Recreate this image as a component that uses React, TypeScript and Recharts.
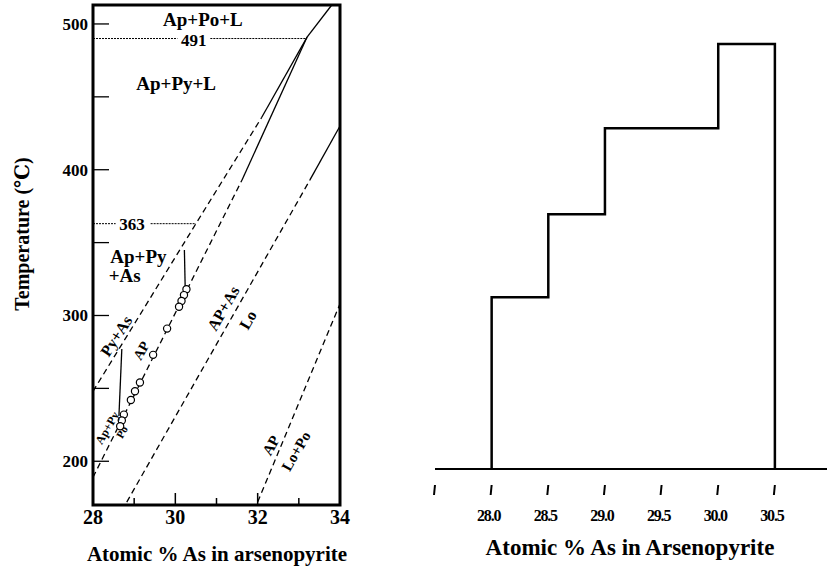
import React from "react";
import {
  ComposedChart,
  Line,
  Scatter,
  XAxis,
  YAxis,
  ReferenceLine,
  ReferenceArea,
  ReferenceDot,
  Customized,
} from "recharts";

const serif = "'Liberation Serif', 'Times New Roman', 'DejaVu Serif', serif";

// ---- left panel: arsenopyrite composition vs temperature ----
const leftXTicks = [28, 29, 30, 31, 32, 33, 34];
const leftXLabels = [28, 30, 32, 34];
const leftYTicks = [200, 250, 300, 350, 400, 450, 500];
const leftYLabels = [200, 300, 400, 500];

const meltSolid = [
  { x: 33.2, t: 491 },
  { x: 33.8, t: 513 },
];
const pyAsDashed = [
  { x: 28.0, t: 248 },
  { x: 30.5, t: 363 },
  { x: 32.1, t: 436 },
];
const pyAsSolid = [
  { x: 32.1, t: 436 },
  { x: 33.2, t: 491 },
];
const pyPoDashed = [
  { x: 28.0, t: 189 },
  { x: 31.62, t: 393 },
];
const pyPoSolid = [
  { x: 31.62, t: 393 },
  { x: 33.2, t: 491 },
];
const loAsDashed = [
  { x: 28.82, t: 172 },
  { x: 33.27, t: 393 },
];
const loAsSolid = [
  { x: 33.27, t: 393 },
  { x: 34.0, t: 430 },
];
const loPoDashed = [
  { x: 32.0, t: 172 },
  { x: 34.0, t: 308 },
];
const tieUpper = [
  { x: 30.24, t: 318 },
  { x: 30.22, t: 345 },
];
const tieLower = [
  { x: 28.63, t: 231 },
  { x: 28.7, t: 277 },
];
const samples = [
  { x: 30.27, t: 318 },
  { x: 30.21, t: 314 },
  { x: 30.15, t: 310 },
  { x: 30.09, t: 306 },
  { x: 29.8, t: 291 },
  { x: 29.46, t: 273 },
  { x: 29.14, t: 254 },
  { x: 29.02, t: 248 },
  { x: 28.92, t: 242 },
  { x: 28.75, t: 232 },
  { x: 28.7, t: 228 },
  { x: 28.66, t: 224 },
];

// text labels inside the diagram
const fieldLabels = [
  { x: 30.67, t: 503, text: "Ap+Po+L", size: 19, angle: 0 },
  { x: 30.02, t: 459, text: "Ap+Py+L", size: 19, angle: 0 },
  { x: 28.56, t: 286, text: "Py+As", size: 16, angle: -57 },
  { x: 29.17, t: 276, text: "AP", size: 14, angle: -60 },
  { x: 31.16, t: 305, text: "AP+As", size: 16, angle: -60 },
  { x: 31.76, t: 297, text: "Lo", size: 16, angle: -60 },
  { x: 28.34, t: 223, text: "Ap+Py", size: 12, angle: -60 },
  { x: 28.7, t: 220, text: "Po", size: 11, angle: -60 },
  { x: 32.32, t: 211, text: "AP", size: 15, angle: -60 },
  { x: 32.93, t: 207, text: "Lo+Po", size: 15, angle: -60 },
];

// ---- right panel: composition range histogram ----
const binEdges = [28.0, 28.5, 29.0, 30.0, 30.5];
const binTemps = [313, 370, 429, 487];
const rightTicks = [27.5, 28.0, 28.5, 29.0, 29.5, 30.0, 30.5];
const BASE = 195;

const outline: { x: number; t: number }[] = [{ x: binEdges[0], t: BASE }];
binTemps.forEach((t, i) => {
  outline.push({ x: binEdges[i], t }, { x: binEdges[i + 1], t });
});
outline.push({ x: binEdges[binEdges.length - 1], t: BASE });

const dash = "6 4";

const LeftXTick = ({ x, y, payload }: any) => {
  const v = payload.value;
  const edge = v === 28 || v === 34;
  const len = edge ? 0 : v % 2 === 0 ? 12 : 7;
  return (
    <g>
      {len > 0 && <line x1={x} x2={x} y1={y} y2={y - len} stroke="#000" strokeWidth={1.5} />}
      {leftXLabels.includes(v) && (
        <text x={x} y={y + 19} textAnchor="middle" fontFamily={serif} fontWeight="bold" fontSize={20} fill="#000">
          {v}
        </text>
      )}
    </g>
  );
};

const LeftYTick = ({ x, y, payload }: any) => {
  const v = payload.value;
  return (
    <g>
      <line x1={x} x2={x + 16} y1={y} y2={y} stroke="#000" strokeWidth={1.3} />
      {leftYLabels.includes(v) && (
        <text x={x - 5} y={y + 6} textAnchor="end" fontFamily={serif} fontWeight="bold" fontSize={17} fill="#000">
          {v}
        </text>
      )}
    </g>
  );
};

const RightXTick = ({ x, y, payload }: any) => {
  const v = payload.value;
  return (
    <g>
      <line x1={x} x2={x - 1} y1={y + 16} y2={y + 26} stroke="#000" strokeWidth={2} />
      {v >= 28 && (
        <text x={x - 3} y={y + 52} textAnchor="middle" fontFamily={serif} fontWeight="bold" fontSize={16} letterSpacing={-1.2} fill="#000">
          {v.toFixed(1)}
        </text>
      )}
    </g>
  );
};

const Ring = (props: any) => (
  <circle cx={props.cx} cy={props.cy} r={3.6} fill="#fff" stroke="#000" strokeWidth={1.2} />
);

function PhaseDiagram() {
  const line = (data: any[], dashed: boolean, key: string) => (
    <Line
      key={key}
      data={data}
      dataKey="t"
      type="linear"
      stroke="#000"
      strokeWidth={1.3}
      strokeDasharray={dashed ? dash : undefined}
      dot={false}
      activeDot={false}
      isAnimationActive={false}
    />
  );
  return (
    <ComposedChart width={360} height={571} margin={{ top: 5, right: 20, left: 33, bottom: 36 }}>
      <XAxis
        dataKey="x"
        type="number"
        domain={[28, 34]}
        ticks={leftXTicks}
        interval={0}
        tickSize={0}
        tickMargin={0}
        axisLine={false}
        tickLine={false}
        height={30}
        tick={<LeftXTick />}
      />
      <YAxis
        type="number"
        domain={[170, 513]}
        ticks={leftYTicks}
        interval={0}
        tickSize={0}
        tickMargin={0}
        axisLine={false}
        tickLine={false}
        width={60}
        tick={<LeftYTick />}
      />
      <ReferenceArea x1={28} x2={34} y1={170} y2={513} fill="none" stroke="#000" strokeWidth={3} />
      <ReferenceLine segment={[{ x: 28, y: 490 }, { x: 30.05, y: 490 }]} stroke="#000" strokeWidth={1} strokeDasharray="2 1" />
      <ReferenceLine segment={[{ x: 30.85, y: 490 }, { x: 33.2, y: 490 }]} stroke="#000" strokeWidth={1} strokeDasharray="2 1" />
      <ReferenceLine segment={[{ x: 28, y: 363 }, { x: 28.55, y: 363 }]} stroke="#000" strokeWidth={1} strokeDasharray="2 1" />
      <ReferenceLine segment={[{ x: 29.4, y: 363 }, { x: 30.5, y: 363 }]} stroke="#000" strokeWidth={1} strokeDasharray="2 1" />
      {line(meltSolid, false, "m")}
      {line(pyAsDashed, true, "pad")}
      {line(pyAsSolid, false, "pas")}
      {line(pyPoDashed, true, "ppd")}
      {line(pyPoSolid, false, "pps")}
      {line(loAsDashed, true, "lad")}
      {line(loAsSolid, false, "las")}
      {line(loPoDashed, true, "lpd")}
      {line(tieUpper, false, "tu")}
      {line(tieLower, false, "tl")}
      <Scatter data={samples} dataKey="t" shape={<Ring />} isAnimationActive={false} />
      <ReferenceDot
        x={30.45}
        y={489}
        r={0}
        fill="none"
        stroke="none"
        label={{ value: "491", position: "center", fontFamily: serif, fontWeight: "bold", fontSize: 17, fill: "#000" }}
      />
      <ReferenceDot
        x={28.95}
        y={363}
        r={0}
        fill="none"
        stroke="none"
        label={{ value: "363", position: "center", fontFamily: serif, fontWeight: "bold", fontSize: 17, fill: "#000" }}
      />
      <ReferenceDot
        x={28.42}
        y={340}
        r={0}
        fill="none"
        stroke="none"
        label={(p: any) => (
          <text x={p.viewBox.x} y={p.viewBox.y + 6} fontFamily={serif} fontWeight="bold" fontSize={19} fill="#000">
            Ap+Py
          </text>
        )}
      />
      <ReferenceDot
        x={28.38}
        y={327}
        r={0}
        fill="none"
        stroke="none"
        label={(p: any) => (
          <text x={p.viewBox.x} y={p.viewBox.y + 6} fontFamily={serif} fontWeight="bold" fontSize={19} fill="#000">
            +As
          </text>
        )}
      />
      {fieldLabels.map((l) => (
        <ReferenceDot
          key={l.text + l.x}
          x={l.x}
          y={l.t}
          r={0}
          fill="none"
          stroke="none"
          label={{
            value: l.text,
            position: "center",
            angle: l.angle,
            fontFamily: serif,
            fontWeight: "bold",
            fontSize: l.size,
            fill: "#000",
          }}
        />
      ))}
      <Customized
        component={() => (
          <g>
            <text
              x={22}
              y={234}
              transform="rotate(-90 22 234)"
              textAnchor="middle"
              dominantBaseline="central"
              fontFamily={serif}
              fontWeight="bold"
              fontSize={20}
              fill="#000"
            >
              Temperature (℃)
            </text>
            <text x={217} y={561} textAnchor="middle" fontFamily={serif} fontWeight="bold" fontSize={21} fill="#000">
              Atomic % As in arsenopyrite
            </text>
          </g>
        )}
      />
    </ComposedChart>
  );
}

function CompositionSteps() {
  return (
    <ComposedChart width={407} height={571} margin={{ top: 25, right: 0, left: 15, bottom: 42 }}>
      <XAxis
        dataKey="x"
        type="number"
        domain={[27.5, 30.96]}
        ticks={rightTicks}
        interval={0}
        tickSize={0}
        tickMargin={0}
        tickLine={false}
        axisLine={{ stroke: "#000", strokeWidth: 2 }}
        height={60}
        tick={<RightXTick />}
      />
      <YAxis type="number" domain={[BASE, 500]} hide />
      <Line
        data={outline}
        dataKey="t"
        type="linear"
        stroke="#000"
        strokeWidth={2.5}
        dot={false}
        activeDot={false}
        isAnimationActive={false}
      />
      <Customized
        component={() => (
          <text x={210} y={555} textAnchor="middle" fontFamily={serif} fontWeight="bold" fontSize={23} fill="#000">
            Atomic % As in Arsenopyrite
          </text>
        )}
      />
    </ComposedChart>
  );
}

export default function App() {
  return (
    <div style={{ position: "absolute", left: 0, top: 0, width: 827, height: 571, background: "#fff" }}>
      <div style={{ position: "absolute", left: 0, top: 0 }}>
        <PhaseDiagram />
      </div>
      <div style={{ position: "absolute", left: 420, top: 0 }}>
        <CompositionSteps />
      </div>
    </div>
  );
}
